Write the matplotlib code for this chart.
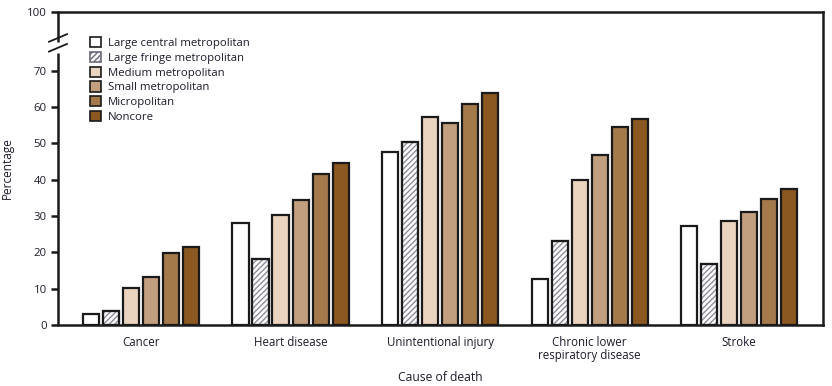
import matplotlib
matplotlib.use("Agg")
import matplotlib.pyplot as plt
import numpy as np
from matplotlib.patches import Patch

plt.rcParams['font.family'] = ['Open Sans', 'DejaVu Sans']
plt.rcParams['hatch.linewidth'] = 1.0

categories = ["Cancer", "Heart disease", "Unintentional injury",
              "Chronic lower\nrespiratory disease", "Stroke"]
series_names = ["Large central metropolitan", "Large fringe metropolitan",
                "Medium metropolitan", "Small metropolitan", "Micropolitan", "Noncore"]
large_central = [2.9, 28.0, 47.6, 12.8, 27.4]
large_fringe = [3.8, 18.3, 50.5, 23.2, 16.9]
medium = [10.1, 30.2, 57.4, 39.8, 28.7]
small = [13.3, 34.5, 55.5, 46.9, 31.2]
micropolitan = [19.7, 41.7, 61.0, 54.6, 34.8]
noncore = [21.6, 44.7, 64.0, 56.8, 37.5]
series = [large_central, large_fringe, medium, small, micropolitan, noncore]
yticks = [0, 10, 20, 30, 40, 50, 60, 70]
top_label = "100"

colors = ["#ffffff", "#ffffff", "#ead4bf", "#c29f7e", "#a57a4b", "#8a5820"]
hatches = [None, "//////", None, None, None, None]
text_color = "#1c1c2c"
edge = "#1a1a1a"

fig = plt.figure(figsize=(8.32, 3.86), dpi=100)
ax = fig.add_axes([58/832, 1 - 325/386, (823-58)/832, (325-12)/386])

top_pos = 86.2
pitch = 0.134
width = 0.108
x = np.arange(len(categories))
for k, vals in enumerate(series):
    bars = ax.bar(x + (k - 2.5) * pitch, vals, width=width, color=colors[k],
                  edgecolor=edge, linewidth=1.6, hatch=hatches[k], zorder=3)
    if hatches[k]:
        for b in bars:
            b.set_edgecolor("#8c8c9c")
        ax.bar(x + (k - 2.5) * pitch, vals, width=width, color="none",
               edgecolor=edge, linewidth=1.6, zorder=4)

ax.set_xlim(-0.555, 4.56)
ax.set_ylim(0, top_pos)

ax.spines['left'].set_visible(False)
for s in ['top', 'right', 'bottom']:
    ax.spines[s].set_linewidth(1.8)
    ax.spines[s].set_color(edge)

tr = ax.get_yaxis_transform()
ax.plot([0, 0], [0, 75.0], transform=tr, color=edge, lw=1.8, clip_on=False, zorder=5, solid_capstyle='butt')
ax.plot([0, 0], [78.0, top_pos], transform=tr, color=edge, lw=1.8, clip_on=False, zorder=5, solid_capstyle='butt')
dx = 9 / 765
ax.plot([-dx, dx], [75.3, 77.4], transform=tr, color=edge, lw=1.3, clip_on=False, zorder=5)
ax.plot([-dx, dx], [78.0, 80.1], transform=tr, color=edge, lw=1.3, clip_on=False, zorder=5)

ax.set_yticks(yticks + [top_pos])
ax.set_yticklabels([str(t) for t in yticks] + [top_label])
ax.tick_params(axis='y', direction='out', length=5, width=1.8, color=edge,
               labelsize=8.2, labelcolor=text_color, pad=3)
ax.set_xticks(x)
ax.set_xticklabels(categories, linespacing=1.0)
ax.tick_params(axis='x', length=0, labelsize=8.3, labelcolor=text_color, pad=8)

ax.set_ylabel("Percentage", fontsize=8.5, color=text_color)
ax.yaxis.set_label_coords(-0.058, 0.5)
ax.set_xlabel("Cause of death", fontsize=8.7, color=text_color)
ax.xaxis.set_label_coords(0.5, -0.148)

handles = []
for k in range(6):
    if hatches[k]:
        handles.append(Patch(facecolor="white", edgecolor="#6a6a7a", hatch="//////", linewidth=1.2, label=series_names[k]))
    else:
        handles.append(Patch(facecolor=colors[k], edgecolor="#1a1a1a", linewidth=1.2, label=series_names[k]))
leg = ax.legend(handles=handles, loc='upper left', bbox_to_anchor=(0.036, 0.935),
                frameon=False, fontsize=8.2, handlelength=1.0, handleheight=1.0,
                handletextpad=0.55, labelspacing=0.25, borderaxespad=0)
for t in leg.get_texts():
    t.set_color(text_color)

fig.savefig("out.png", dpi=100)
